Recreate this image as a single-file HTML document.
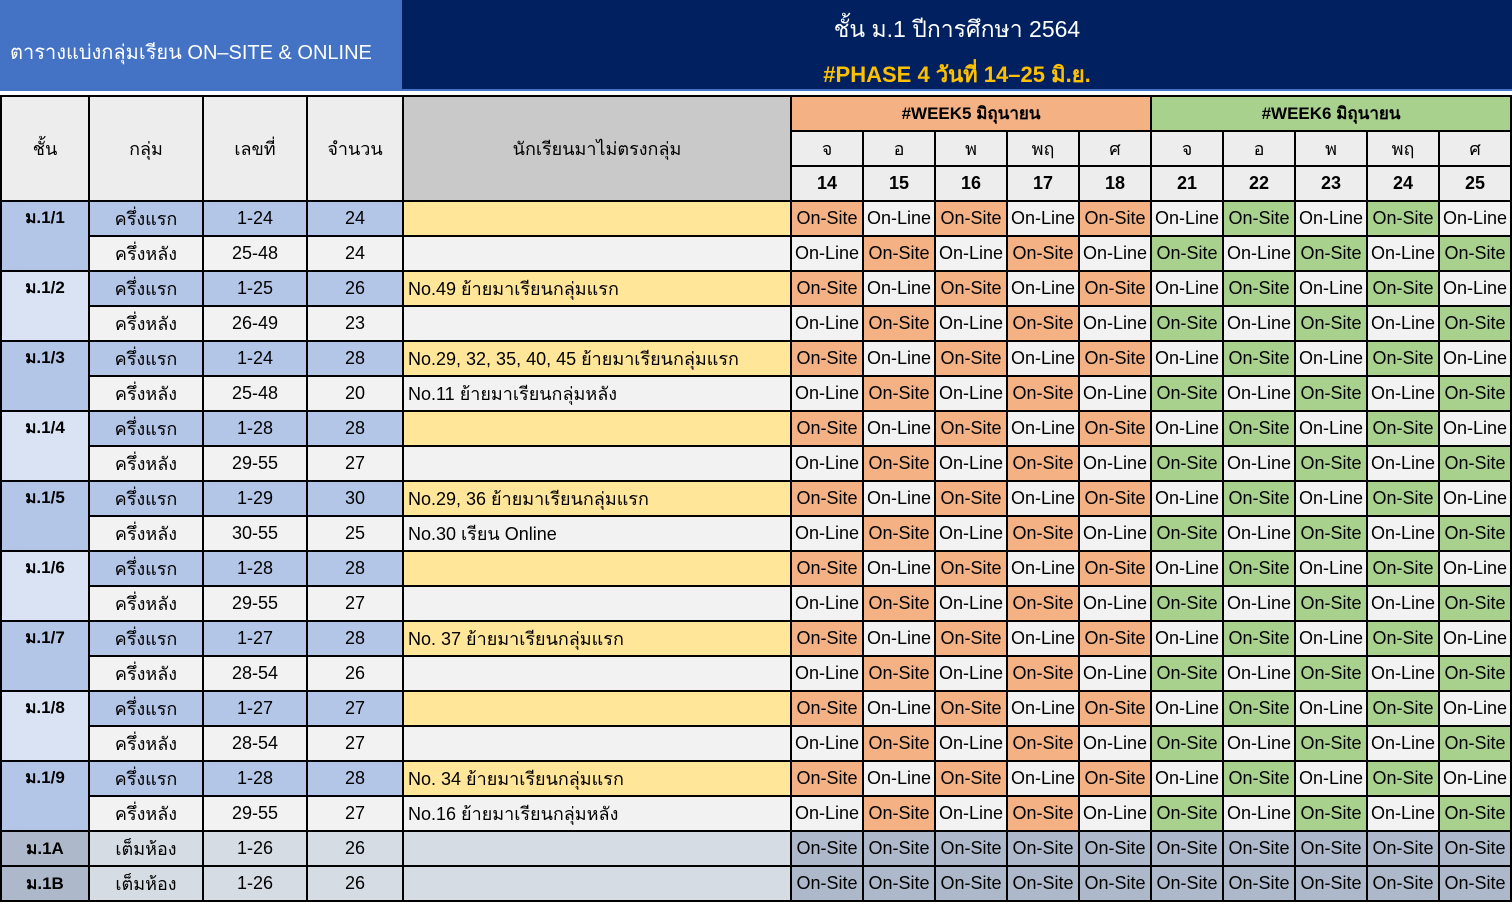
<!DOCTYPE html>
<html><head><meta charset="utf-8"><style>
body{margin:0;width:1512px;height:904px;background:#fff;overflow:hidden;font-family:"Liberation Sans","DejaVu Sans",sans-serif;}
#h1{position:absolute;left:0;top:0;width:402px;height:89px;background:#4472c4;color:#fff;font-size:20px;}
#h1 span{position:absolute;left:10px;top:36px;white-space:nowrap;}
#h2{position:absolute;left:402px;top:0;width:1110px;height:89px;background:#002060;text-align:center;}
#h2 .ta{position:absolute;left:0;right:0;top:12px;color:#fff;font-size:23px;}
#h2 .tb{position:absolute;left:0;right:0;top:57px;color:#ffc000;font-size:22px;font-weight:bold;}
#strip{position:absolute;left:0;top:89px;width:1512px;height:2px;background:#4472c4;}
table{position:absolute;left:0;top:95px;border-collapse:collapse;table-layout:fixed;width:1511px;}
tr{height:35px;}
td{border:2px solid #000;height:33px;padding:0;text-align:center;font-size:18px;color:#000;white-space:nowrap;overflow:hidden;background:#f2f2f2;}
.hd{background:#ededed;}
.ht{font-weight:bold;}
.gr{background:#c9c9c9;}
.w5{background:#f4b183;font-weight:bold;font-size:17px;}
.w6{background:#a9d18e;font-weight:bold;font-size:17px;}
.c1{background:#b4c6e7;vertical-align:top;padding-top:2px;font-weight:bold;font-size:17px;}
.c2{background:#dae3f3;vertical-align:top;padding-top:2px;font-weight:bold;font-size:17px;}
.cx{background:#adb9ca;font-weight:bold;font-size:17px;}
.bl{background:#b4c6e7;}
.y{background:#ffe699;text-align:left;padding-left:4px;}
.n{text-align:left;padding-left:4px;}
.o{background:#f4b183;}
.g{background:#a9d18e;}
.s{background:#d6dce4;}
.sx{background:#adb9ca;}
</style></head><body>
<div id="h1"><span>ตารางแบ่งกลุ่มเรียน ON–SITE &amp; ONLINE</span></div>
<div id="h2"><div class="ta">ชั้น ม.1 ปีการศึกษา 2564</div><div class="tb">#PHASE 4 วันที่ 14–25 มิ.ย.</div></div>
<div id="strip"></div>
<table>
<colgroup><col style="width:88px"><col style="width:114px"><col style="width:104px"><col style="width:96px"><col style="width:388px"><col span="10" style="width:72px"></colgroup>
<tr><td rowspan="3" class="hd">ชั้น</td><td rowspan="3" class="hd">กลุ่ม</td><td rowspan="3" class="hd">เลขที่</td><td rowspan="3" class="hd">จำนวน</td><td rowspan="3" class="gr">นักเรียนมาไม่ตรงกลุ่ม</td><td colspan="5" class="w5">#WEEK5 มิถุนายน</td><td colspan="5" class="w6">#WEEK6 มิถุนายน</td></tr>
<tr><td class="hd">จ</td><td class="hd">อ</td><td class="hd">พ</td><td class="hd">พฤ</td><td class="hd">ศ</td><td class="hd">จ</td><td class="hd">อ</td><td class="hd">พ</td><td class="hd">พฤ</td><td class="hd">ศ</td></tr>
<tr><td class="hd ht">14</td><td class="hd ht">15</td><td class="hd ht">16</td><td class="hd ht">17</td><td class="hd ht">18</td><td class="hd ht">21</td><td class="hd ht">22</td><td class="hd ht">23</td><td class="hd ht">24</td><td class="hd ht">25</td></tr>
<tr><td rowspan="2" class="c1">ม.1/1</td><td class="bl">ครึ่งแรก</td><td class="bl">1-24</td><td class="bl">24</td><td class="y"></td><td class="o">On-Site</td><td>On-Line</td><td class="o">On-Site</td><td>On-Line</td><td class="o">On-Site</td><td>On-Line</td><td class="g">On-Site</td><td>On-Line</td><td class="g">On-Site</td><td>On-Line</td></tr>
<tr><td>ครึ่งหลัง</td><td>25-48</td><td>24</td><td class="n"></td><td>On-Line</td><td class="o">On-Site</td><td>On-Line</td><td class="o">On-Site</td><td>On-Line</td><td class="g">On-Site</td><td>On-Line</td><td class="g">On-Site</td><td>On-Line</td><td class="g">On-Site</td></tr>
<tr><td rowspan="2" class="c2">ม.1/2</td><td class="bl">ครึ่งแรก</td><td class="bl">1-25</td><td class="bl">26</td><td class="y">No.49 ย้ายมาเรียนกลุ่มแรก</td><td class="o">On-Site</td><td>On-Line</td><td class="o">On-Site</td><td>On-Line</td><td class="o">On-Site</td><td>On-Line</td><td class="g">On-Site</td><td>On-Line</td><td class="g">On-Site</td><td>On-Line</td></tr>
<tr><td>ครึ่งหลัง</td><td>26-49</td><td>23</td><td class="n"></td><td>On-Line</td><td class="o">On-Site</td><td>On-Line</td><td class="o">On-Site</td><td>On-Line</td><td class="g">On-Site</td><td>On-Line</td><td class="g">On-Site</td><td>On-Line</td><td class="g">On-Site</td></tr>
<tr><td rowspan="2" class="c1">ม.1/3</td><td class="bl">ครึ่งแรก</td><td class="bl">1-24</td><td class="bl">28</td><td class="y">No.29, 32, 35, 40, 45 ย้ายมาเรียนกลุ่มแรก</td><td class="o">On-Site</td><td>On-Line</td><td class="o">On-Site</td><td>On-Line</td><td class="o">On-Site</td><td>On-Line</td><td class="g">On-Site</td><td>On-Line</td><td class="g">On-Site</td><td>On-Line</td></tr>
<tr><td>ครึ่งหลัง</td><td>25-48</td><td>20</td><td class="n">No.11 ย้ายมาเรียนกลุ่มหลัง</td><td>On-Line</td><td class="o">On-Site</td><td>On-Line</td><td class="o">On-Site</td><td>On-Line</td><td class="g">On-Site</td><td>On-Line</td><td class="g">On-Site</td><td>On-Line</td><td class="g">On-Site</td></tr>
<tr><td rowspan="2" class="c2">ม.1/4</td><td class="bl">ครึ่งแรก</td><td class="bl">1-28</td><td class="bl">28</td><td class="y"></td><td class="o">On-Site</td><td>On-Line</td><td class="o">On-Site</td><td>On-Line</td><td class="o">On-Site</td><td>On-Line</td><td class="g">On-Site</td><td>On-Line</td><td class="g">On-Site</td><td>On-Line</td></tr>
<tr><td>ครึ่งหลัง</td><td>29-55</td><td>27</td><td class="n"></td><td>On-Line</td><td class="o">On-Site</td><td>On-Line</td><td class="o">On-Site</td><td>On-Line</td><td class="g">On-Site</td><td>On-Line</td><td class="g">On-Site</td><td>On-Line</td><td class="g">On-Site</td></tr>
<tr><td rowspan="2" class="c1">ม.1/5</td><td class="bl">ครึ่งแรก</td><td class="bl">1-29</td><td class="bl">30</td><td class="y">No.29, 36 ย้ายมาเรียนกลุ่มแรก</td><td class="o">On-Site</td><td>On-Line</td><td class="o">On-Site</td><td>On-Line</td><td class="o">On-Site</td><td>On-Line</td><td class="g">On-Site</td><td>On-Line</td><td class="g">On-Site</td><td>On-Line</td></tr>
<tr><td>ครึ่งหลัง</td><td>30-55</td><td>25</td><td class="n">No.30 เรียน Online</td><td>On-Line</td><td class="o">On-Site</td><td>On-Line</td><td class="o">On-Site</td><td>On-Line</td><td class="g">On-Site</td><td>On-Line</td><td class="g">On-Site</td><td>On-Line</td><td class="g">On-Site</td></tr>
<tr><td rowspan="2" class="c2">ม.1/6</td><td class="bl">ครึ่งแรก</td><td class="bl">1-28</td><td class="bl">28</td><td class="y"></td><td class="o">On-Site</td><td>On-Line</td><td class="o">On-Site</td><td>On-Line</td><td class="o">On-Site</td><td>On-Line</td><td class="g">On-Site</td><td>On-Line</td><td class="g">On-Site</td><td>On-Line</td></tr>
<tr><td>ครึ่งหลัง</td><td>29-55</td><td>27</td><td class="n"></td><td>On-Line</td><td class="o">On-Site</td><td>On-Line</td><td class="o">On-Site</td><td>On-Line</td><td class="g">On-Site</td><td>On-Line</td><td class="g">On-Site</td><td>On-Line</td><td class="g">On-Site</td></tr>
<tr><td rowspan="2" class="c1">ม.1/7</td><td class="bl">ครึ่งแรก</td><td class="bl">1-27</td><td class="bl">28</td><td class="y">No. 37 ย้ายมาเรียนกลุ่มแรก</td><td class="o">On-Site</td><td>On-Line</td><td class="o">On-Site</td><td>On-Line</td><td class="o">On-Site</td><td>On-Line</td><td class="g">On-Site</td><td>On-Line</td><td class="g">On-Site</td><td>On-Line</td></tr>
<tr><td>ครึ่งหลัง</td><td>28-54</td><td>26</td><td class="n"></td><td>On-Line</td><td class="o">On-Site</td><td>On-Line</td><td class="o">On-Site</td><td>On-Line</td><td class="g">On-Site</td><td>On-Line</td><td class="g">On-Site</td><td>On-Line</td><td class="g">On-Site</td></tr>
<tr><td rowspan="2" class="c2">ม.1/8</td><td class="bl">ครึ่งแรก</td><td class="bl">1-27</td><td class="bl">27</td><td class="y"></td><td class="o">On-Site</td><td>On-Line</td><td class="o">On-Site</td><td>On-Line</td><td class="o">On-Site</td><td>On-Line</td><td class="g">On-Site</td><td>On-Line</td><td class="g">On-Site</td><td>On-Line</td></tr>
<tr><td>ครึ่งหลัง</td><td>28-54</td><td>27</td><td class="n"></td><td>On-Line</td><td class="o">On-Site</td><td>On-Line</td><td class="o">On-Site</td><td>On-Line</td><td class="g">On-Site</td><td>On-Line</td><td class="g">On-Site</td><td>On-Line</td><td class="g">On-Site</td></tr>
<tr><td rowspan="2" class="c1">ม.1/9</td><td class="bl">ครึ่งแรก</td><td class="bl">1-28</td><td class="bl">28</td><td class="y">No. 34 ย้ายมาเรียนกลุ่มแรก</td><td class="o">On-Site</td><td>On-Line</td><td class="o">On-Site</td><td>On-Line</td><td class="o">On-Site</td><td>On-Line</td><td class="g">On-Site</td><td>On-Line</td><td class="g">On-Site</td><td>On-Line</td></tr>
<tr><td>ครึ่งหลัง</td><td>29-55</td><td>27</td><td class="n">No.16 ย้ายมาเรียนกลุ่มหลัง</td><td>On-Line</td><td class="o">On-Site</td><td>On-Line</td><td class="o">On-Site</td><td>On-Line</td><td class="g">On-Site</td><td>On-Line</td><td class="g">On-Site</td><td>On-Line</td><td class="g">On-Site</td></tr>
<tr><td class="cx">ม.1A</td><td class="s">เต็มห้อง</td><td class="s">1-26</td><td class="s">26</td><td class="s"></td><td class="sx">On-Site</td><td class="sx">On-Site</td><td class="sx">On-Site</td><td class="sx">On-Site</td><td class="sx">On-Site</td><td class="sx">On-Site</td><td class="sx">On-Site</td><td class="sx">On-Site</td><td class="sx">On-Site</td><td class="sx">On-Site</td></tr>
<tr><td class="cx">ม.1B</td><td class="s">เต็มห้อง</td><td class="s">1-26</td><td class="s">26</td><td class="s"></td><td class="sx">On-Site</td><td class="sx">On-Site</td><td class="sx">On-Site</td><td class="sx">On-Site</td><td class="sx">On-Site</td><td class="sx">On-Site</td><td class="sx">On-Site</td><td class="sx">On-Site</td><td class="sx">On-Site</td><td class="sx">On-Site</td></tr>
</table>
</body></html>
